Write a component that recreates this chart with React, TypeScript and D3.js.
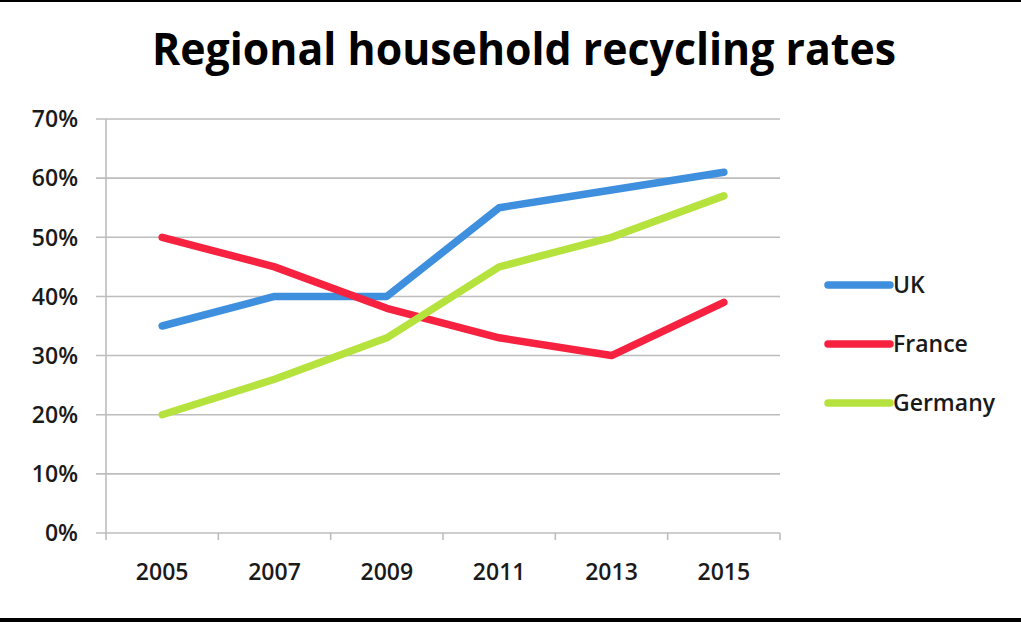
import { useEffect, useRef } from 'react';
import * as d3 from 'd3';

const years = ['2005', '2007', '2009', '2011', '2013', '2015'];
const ukRates = [35, 40, 40, 55, 58, 61];
const franceRates = [50, 45, 38, 33, 30, 39];
const germanyRates = [20, 26, 33, 45, 50, 57];
const yTicks = [0, 10, 20, 30, 40, 50, 60, 70];

const seriesNames = ['UK', 'France', 'Germany'];
const seriesColors = ['#3e8fdd', '#f6223f', '#b5e23c'];

export default function App() {
  const svgRef = useRef<SVGSVGElement>(null);

  useEffect(() => {
    if (!svgRef.current) return;
    const width = 1021;
    const height = 622;
    const margin = { top: 119, right: 241, bottom: 89, left: 106 };
    const font = '"Open Sans", "Liberation Sans", sans-serif';

    const svg = d3.select(svgRef.current).attr('width', width).attr('height', height);
    svg.selectAll('*').remove();

    svg.append('rect').attr('width', width).attr('height', height).attr('fill', '#ffffff');

    const x = d3
      .scaleBand()
      .domain(years)
      .range([margin.left, width - margin.right])
      .padding(0);

    const y = d3
      .scaleLinear()
      .domain([0, 70])
      .range([height - margin.bottom, margin.top]);

    // gridlines
    svg
      .append('g')
      .selectAll('line')
      .data(yTicks)
      .enter()
      .append('line')
      .attr('x1', margin.left - 10)
      .attr('x2', width - margin.right)
      .attr('y1', (d) => y(d))
      .attr('y2', (d) => y(d))
      .attr('stroke', '#bdbdbd')
      .attr('stroke-width', 1.6);

    // y axis line
    svg
      .append('line')
      .attr('x1', margin.left)
      .attr('x2', margin.left)
      .attr('y1', y(70))
      .attr('y2', y(0))
      .attr('stroke', '#bdbdbd')
      .attr('stroke-width', 1.6);

    // x axis ticks at band edges
    const edges = years.map((d) => x(d) || 0).concat([width - margin.right]);
    svg
      .append('g')
      .selectAll('line')
      .data(edges)
      .enter()
      .append('line')
      .attr('x1', (d) => d)
      .attr('x2', (d) => d)
      .attr('y1', y(0))
      .attr('y2', y(0) + 7)
      .attr('stroke', '#bdbdbd')
      .attr('stroke-width', 1.6);

    // y labels
    svg
      .append('g')
      .selectAll('text')
      .data(yTicks)
      .enter()
      .append('text')
      .attr('x', 78)
      .attr('y', (d) => y(d))
      .attr('dy', '0.36em')
      .attr('text-anchor', 'end')
      .style('font-family', font)
      .style('font-size', '23px')
      .style('font-weight', '600')
      .style('fill', '#1a1a1a')
      .text((d) => `${d}%`);

    // x labels
    svg
      .append('g')
      .selectAll('text')
      .data(years)
      .enter()
      .append('text')
      .attr('x', (d) => (x(d) || 0) + x.bandwidth() / 2)
      .attr('y', 580)
      .attr('text-anchor', 'middle')
      .style('font-family', font)
      .style('font-size', '23px')
      .style('font-weight', '600')
      .style('fill', '#1a1a1a')
      .text((d) => d);

    const series = [ukRates, franceRates, germanyRates];
    const line = d3
      .line<number>()
      .x((_, i) => (x(years[i]) || 0) + x.bandwidth() / 2)
      .y((d) => y(d));

    series.forEach((values, i) => {
      svg
        .append('path')
        .datum(values)
        .attr('d', line)
        .attr('fill', 'none')
        .attr('stroke', seriesColors[i])
        .attr('stroke-width', 7.5)
        .attr('stroke-linecap', 'round')
        .attr('stroke-linejoin', 'round');
    });

    // legend
    const legend = svg
      .append('g')
      .selectAll('g')
      .data(seriesNames)
      .enter()
      .append('g')
      .attr('transform', (_, i) => `translate(828, ${285 + i * 59})`);

    legend
      .append('line')
      .attr('x1', 0)
      .attr('x2', 62)
      .attr('stroke', (_, i) => seriesColors[i])
      .attr('stroke-width', 7.5)
      .attr('stroke-linecap', 'round');

    legend
      .append('text')
      .attr('x', 65)
      .attr('y', 0)
      .attr('dy', '0.36em')
      .style('font-family', font)
      .style('font-size', '23px')
      .style('font-weight', '600')
      .style('fill', '#1a1a1a')
      .text((d) => d);

    // title
    svg
      .append('text')
      .attr('x', 524)
      .attr('y', 65)
      .attr('text-anchor', 'middle')
      .attr('textLength', 744)
      .attr('lengthAdjust', 'spacingAndGlyphs')
      .style('font-family', font)
      .style('font-size', '45px')
      .style('font-weight', '700')
      .style('fill', '#000000')
      .text('Regional household recycling rates');

    // frame
    svg.append('rect').attr('x', 0).attr('y', 0).attr('width', width).attr('height', 2).attr('fill', '#000');
    svg.append('rect').attr('x', 0).attr('y', 618).attr('width', width).attr('height', 4).attr('fill', '#000');
  }, []);

  return (
    <svg
      ref={svgRef}
      style={{ position: 'absolute', left: 0, top: 0, display: 'block' }}
    />
  );
}
